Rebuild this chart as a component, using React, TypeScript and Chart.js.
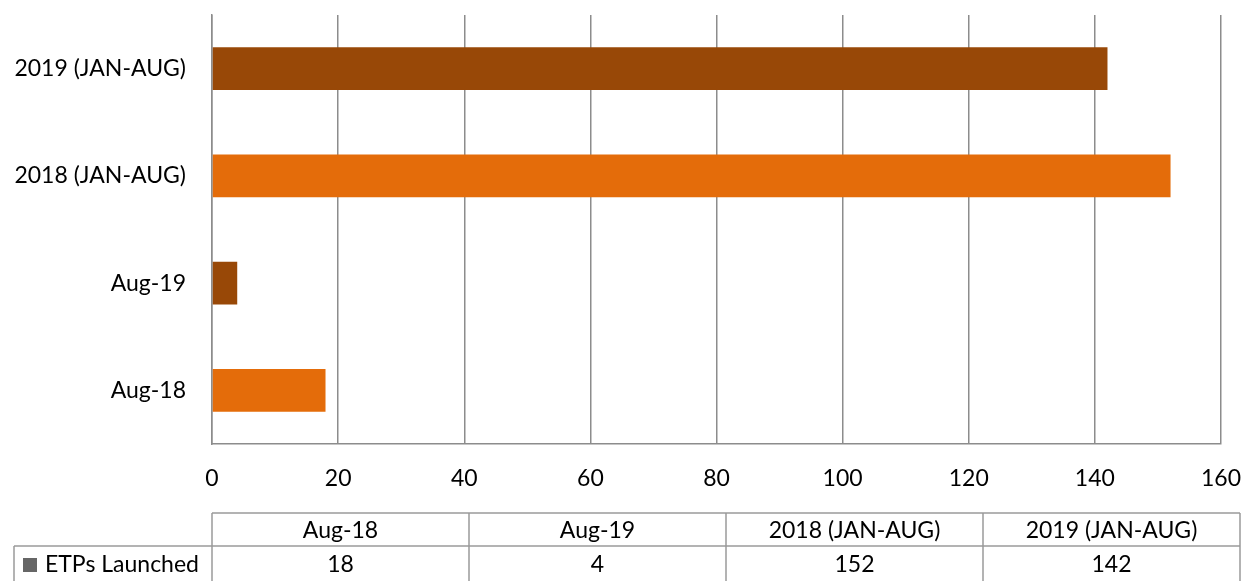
import React, { useEffect, useRef } from "react";
import { Chart, registerables } from "chart.js";

Chart.register(...registerables);

const categories = ["Aug-18", "Aug-19", "2018 (JAN-AUG)", "2019 (JAN-AUG)"];
const etpsLaunched = [18, 4, 152, 142];
const barColors = ["#E46C0A", "#984807", "#E46C0A", "#984807"];
const seriesName = "ETPs Launched";
const xTicks = [0, 20, 40, 60, 80, 100, 120, 140, 160];

const FONT = "Lato, 'Open Sans', sans-serif";
const FS = 23;
const GRID = "#8c8c8c";

const tablePlugin = {
  id: "dataTable",
  afterDraw(chart: any) {
    const ctx = chart.ctx as CanvasRenderingContext2D;
    const area = chart.chartArea;
    const left = area.left;
    const right = chart.width - 4;
    const top = 513;
    const mid = 546;
    const bottom = chart.height + 2;
    const colW = (right - left) / categories.length;
    ctx.save();
    ctx.strokeStyle = "#9a9a9a";
    ctx.lineWidth = 1.5;
    ctx.beginPath();
    ctx.moveTo(left, top);
    ctx.lineTo(right, top);
    ctx.moveTo(14, mid);
    ctx.lineTo(right, mid);
    ctx.moveTo(14, mid);
    ctx.lineTo(14, bottom);
    for (let i = 0; i <= categories.length; i++) {
      const x = left + colW * i;
      ctx.moveTo(x, top);
      ctx.lineTo(x, bottom);
    }
    ctx.stroke();
    ctx.fillStyle = "#000";
    ctx.font = `${FS}px ${FONT}`;
    ctx.textAlign = "center";
    ctx.textBaseline = "middle";
    categories.forEach((c, i) => {
      const cx = left + colW * (i + 0.5);
      ctx.fillText(c, cx, (top + mid) / 2 + 1);
      ctx.fillText(String(etpsLaunched[i]), cx, 565);
    });
    ctx.fillStyle = "#666666";
    ctx.fillRect(23, 558, 14, 14);
    ctx.fillStyle = "#000";
    ctx.textAlign = "left";
    ctx.fillText(seriesName, 45, 565);
    ctx.restore();
  },
};

export default function App() {
  const ref = useRef<HTMLCanvasElement>(null);
  useEffect(() => {
    if (!ref.current) return;
    const chart = new Chart(ref.current, {
      type: "bar",
      data: {
        labels: categories,
        datasets: [
          {
            label: seriesName,
            data: etpsLaunched,
            backgroundColor: barColors,
            categoryPercentage: 1,
            barPercentage: 0.4,
          },
        ],
      },
      options: {
        indexAxis: "y",
        animation: false,
        responsive: false,
        layout: { padding: { top: 15, right: 23, left: 0, bottom: 0 } },
        plugins: {
          legend: { display: false },
          tooltip: { enabled: false },
        },
        scales: {
          x: {
            min: 0,
            max: 160,
            afterBuildTicks(scale: any) {
              scale.ticks = xTicks.map((v) => ({ value: v }));
            },
            afterFit(scale: any) {
              scale.height = 137;
              scale.paddingLeft = 0;
              scale.paddingRight = 0;
            },
            ticks: {
              color: "#000",
              font: { family: FONT, size: FS },
              padding: 21,
              maxRotation: 0,
            },
            grid: { color: GRID, lineWidth: 1.5, drawTicks: false },
            border: { color: GRID, width: 1.5 },
          },
          y: {
            reverse: true,
            afterFit(scale: any) {
              scale.width = 212;
              scale.paddingTop = 0;
              scale.paddingBottom = 0;
            },
            ticks: {
              color: "#000",
              font: { family: FONT, size: FS },
              padding: 26,
            },
            grid: { display: false, drawTicks: false },
            border: { color: GRID, width: 1.5 },
          },
        },
      },
      plugins: [tablePlugin],
    });
    return () => chart.destroy();
  }, []);
  return (
    <div style={{ position: "absolute", left: 0, top: 0, width: 1244, height: 581, background: "#fff" }}>
      <canvas ref={ref} width={1244} height={581} style={{ display: "block" }} />
    </div>
  );
}
